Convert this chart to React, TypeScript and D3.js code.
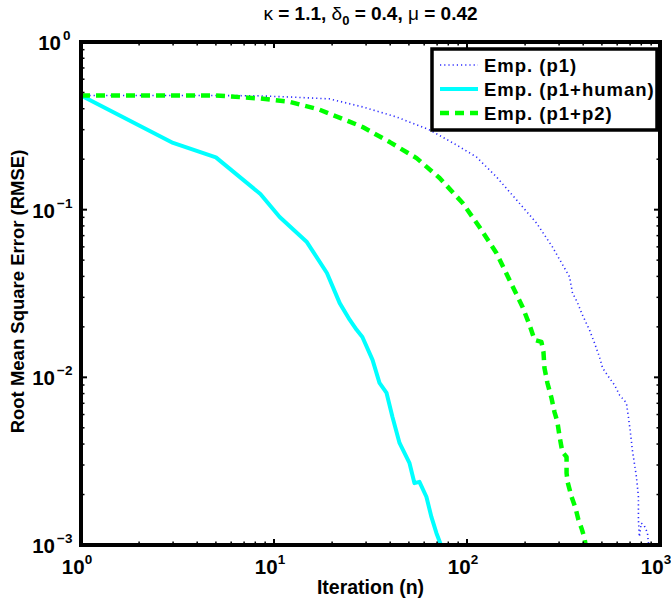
import React from "react";
import * as d3 from "d3";

const blueX = [1, 4, 8, 12, 19.4, 28.8, 43.2, 64, 88.3, 112, 142, 181, 229, 277, 340, 352, 374, 396, 431, 458, 486, 504, 547, 581, 617, 670, 686, 703, 719, 736, 755, 773, 773, 782, 800, 830, 861, 875];
const blueY = [0.48, 0.48, 0.478, 0.47, 0.458, 0.41, 0.357, 0.299, 0.243, 0.206, 0.157, 0.114, 0.0833, 0.06, 0.0397, 0.0319, 0.0278, 0.0236, 0.0192, 0.016, 0.0132, 0.01137, 0.0099, 0.009, 0.00785, 0.00703, 0.0058, 0.00467, 0.00369, 0.00309, 0.00255, 0.00194, 0.00141, 0.00112, 0.00135, 0.0013, 0.00118, 0.00098];

const cyanX = [1, 3, 5, 8.5, 10.7, 14.8, 18.8, 21.9, 24.7, 26.8, 28.7, 32.4, 35.2, 38.3, 41.1, 44.7, 50.3, 53.4, 56.7, 61.6, 65.4, 69.4, 74.5];
const cyanY = [0.48, 0.25, 0.205, 0.124, 0.0904, 0.0641, 0.0419, 0.0277, 0.022, 0.0192, 0.0174, 0.0127, 0.00927, 0.00807, 0.0058, 0.00406, 0.00309, 0.00234, 0.00238, 0.00194, 0.00147, 0.00118, 0.00095];

const greenX = [1, 5, 8.5, 12, 17.2, 24.6, 28.8, 39.8, 54.8, 72.1, 94.9, 116, 142, 166, 194, 211, 224, 243, 249, 252, 261, 274, 284, 294, 302, 312, 328, 328, 332, 348, 365, 378, 392, 406, 415];
const greenY = [0.48, 0.48, 0.46, 0.44, 0.395, 0.335, 0.311, 0.253, 0.203, 0.1545, 0.1096, 0.0788, 0.0552, 0.0381, 0.0263, 0.0205, 0.0167, 0.01626, 0.01416, 0.01137, 0.00925, 0.00753, 0.00621, 0.00542, 0.00441, 0.00359, 0.00335, 0.00269, 0.00238, 0.00194, 0.00166, 0.00141, 0.00126, 0.0011, 0.00095];

const xTickExps = [0, 1, 2, 3];
const yTickExps = [0, -1, -2, -3];
const legendLabels = ["Emp. (p1)", "Emp. (p1+human)", "Emp. (p1+p2)"];

const W = 671, H = 603;
const L = 81, R = 660, T = 42, B = 545;
const FONT = "'Liberation Sans', Arial, Helvetica, sans-serif";

export default function App() {
  const x = d3.scaleLog().domain([1, 1000]).range([L, R]);
  const y = d3.scaleLog().domain([1e-3, 1]).range([B, T]);
  const line = d3.line<[number, number]>().x(d => x(d[0])).y(d => y(d[1]));
  const zip = (a: number[], b: number[]) => a.map((v, i) => [v, b[i]] as [number, number]);

  const minorX: number[] = [];
  for (let e = 0; e < 3; e++) for (let k = 2; k <= 9; k++) minorX.push(k * Math.pow(10, e));
  const minorY: number[] = [];
  for (let e = -3; e < 0; e++) for (let k = 2; k <= 9; k++) minorY.push(k * Math.pow(10, e));

  const series = [
    { d: zip(blueX, blueY), color: "#2a2aff", w: 1.6, dash: "1.2,3" },
    { d: zip(cyanX, cyanY), color: "#00ffff", w: 4, dash: undefined },
    { d: zip(greenX, greenY), color: "#00ff00", w: 4.5, dash: "9,6" },
  ];

  const legRows = [65, 89, 113];

  return (
    <svg width={W} height={H} style={{ display: "block", position: "absolute", left: 0, top: 0 }} fontFamily={FONT}>
      <rect x={0} y={0} width={W} height={H} fill="#fff" />
      <defs>
        <clipPath id="plotclip">
          <rect x={L} y={T} width={R - L} height={B - T} />
        </clipPath>
      </defs>
      <text x={(L + R) / 2} y={20} textAnchor="middle" fontSize={19} fontWeight="bold">
        <tspan fontWeight="normal">κ</tspan>
        <tspan> = 1.1, </tspan>
        <tspan fontWeight="normal">δ</tspan>
        <tspan dy={5} fontSize={13}>0</tspan>
        <tspan dy={-5}> = 0.4, </tspan>
        <tspan fontWeight="normal">μ</tspan>
        <tspan> = 0.42</tspan>
      </text>

      <g clipPath="url(#plotclip)">
        {series.map((s, i) => (
          <path key={i} d={line(s.d) || ""} fill="none" stroke={s.color} strokeWidth={s.w}
            strokeDasharray={s.dash} strokeLinejoin="round" />
        ))}
      </g>

      {/* ticks */}
      <g stroke="#000">
        {xTickExps.map(e => {
          const px = x(Math.pow(10, e));
          return (
            <g key={"xt" + e} strokeWidth={2}>
              <line x1={px} x2={px} y1={B} y2={B - 6} />
              <line x1={px} x2={px} y1={T} y2={T + 6} />
            </g>
          );
        })}
        {minorX.map((v, i) => (
          <g key={"xm" + i} strokeWidth={1.5}>
            <line x1={x(v)} x2={x(v)} y1={B} y2={B - 3.5} />
            <line x1={x(v)} x2={x(v)} y1={T} y2={T + 3.5} />
          </g>
        ))}
        {yTickExps.map(e => {
          const py = y(Math.pow(10, e));
          return (
            <g key={"yt" + e} strokeWidth={2}>
              <line x1={L} x2={L + 6} y1={py} y2={py} />
              <line x1={R} x2={R - 6} y1={py} y2={py} />
            </g>
          );
        })}
        {minorY.map((v, i) => (
          <g key={"ym" + i} strokeWidth={1.5}>
            <line x1={L} x2={L + 3.5} y1={y(v)} y2={y(v)} />
            <line x1={R} x2={R - 3.5} y1={y(v)} y2={y(v)} />
          </g>
        ))}
      </g>

      <rect x={L} y={T} width={R - L} height={B - T} fill="none" stroke="#000" strokeWidth={4} />

      {/* x tick labels */}
      {xTickExps.map(e => (
        <text key={"xl" + e} x={x(Math.pow(10, e)) - 4} y={574} textAnchor="middle" fontSize={20.5} fontWeight="bold">
          10<tspan dy={-10} fontSize={13.5}>{e}</tspan>
        </text>
      ))}
      {/* y tick labels */}
      {yTickExps.map(e => (
        <text key={"yl" + e} x={e < 0 ? 55 : 61} y={y(Math.pow(10, e)) + 8} textAnchor="end" fontSize={20.5} fontWeight="bold">
          10
          <tspan x={e < 0 ? 57 : 63} dy={-10} fontSize={13.5} textAnchor="start">{e < 0 ? "\u2212" + (-e) : e}</tspan>
        </text>
      ))}

      <text x={(L + R) / 2} y={594} textAnchor="middle" fontSize={19.5} fontWeight="bold">Iteration (n)</text>
      <text transform={`translate(24,${(T + B) / 2 - 2}) rotate(-90)`} textAnchor="middle" fontSize={18.5} fontWeight="bold">
        Root Mean Square Error (RMSE)
      </text>

      {/* legend */}
      <rect x={432} y={49} width={225} height={81} fill="#fff" stroke="#000" strokeWidth={3.5} />
      {series.map((s, i) => (
        <g key={"lg" + i}>
          <line x1={440} x2={478} y1={legRows[i]} y2={legRows[i]} stroke={s.color} strokeWidth={s.w}
            strokeDasharray={s.dash} />
          <text x={484} y={legRows[i] + 7} fontSize={18.5} fontWeight="bold" letterSpacing={1}>{legendLabels[i]}</text>
        </g>
      ))}
    </svg>
  );
}
